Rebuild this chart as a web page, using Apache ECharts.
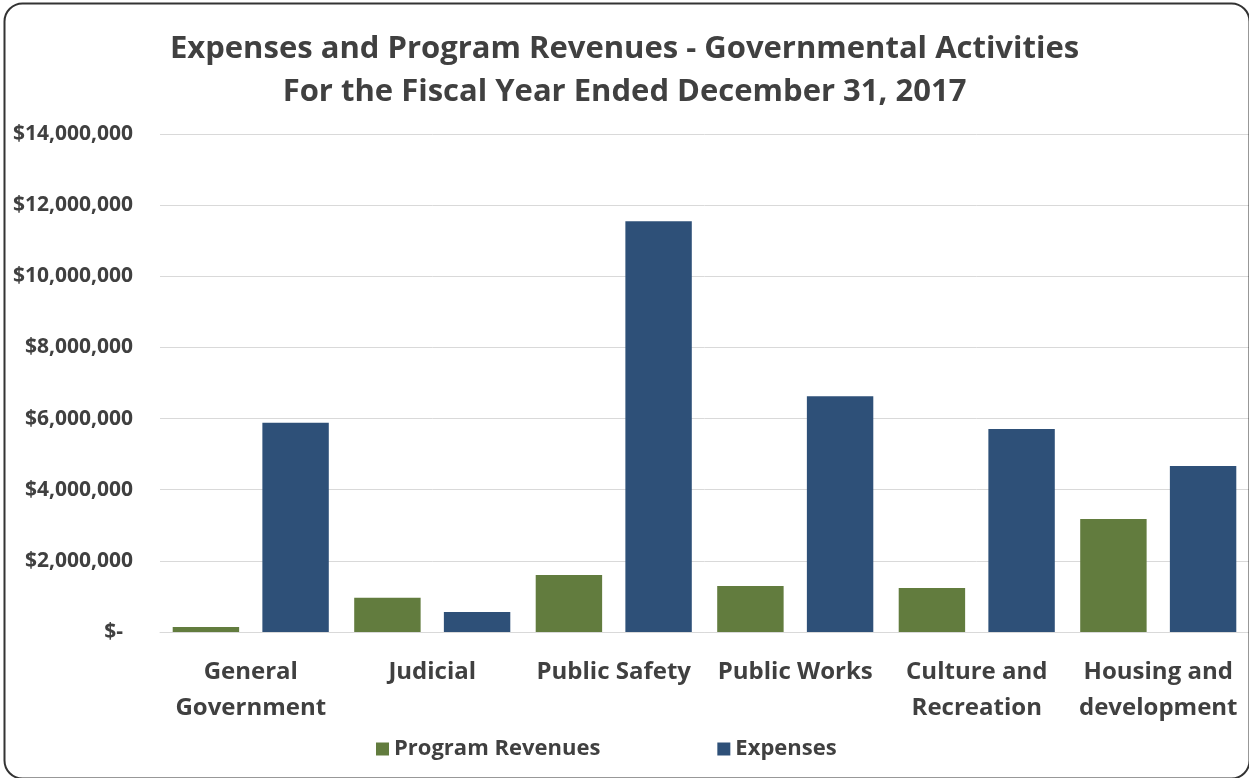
<!DOCTYPE html>
<html>
<head>
<meta charset="utf-8">
<title>Expenses and Program Revenues - Governmental Activities</title>
<script src="https://cdn.jsdelivr.net/npm/echarts@6/dist/echarts.min.js"></script>
<style>
  html, body { margin: 0; padding: 0; background: #ffffff; }
  #chart { width: 1249px; height: 778px; }
</style>
</head>
<body>
<div id="chart"></div>
<script>
// Functions of governmental activities
const categories = [
  'General\nGovernment',
  'Judicial',
  'Public Safety',
  'Public Works',
  'Culture and\nRecreation',
  'Housing and\ndevelopment'
];

// Dollars, fiscal year 2017
const programRevenues = [140000, 960000, 1600000, 1290000, 1240000, 3180000];
const expenses = [5880000, 560000, 11550000, 6630000, 5710000, 4670000];

const seriesNames = ['Program Revenues', 'Expenses'];
const titleLines = [
  'Expenses and Program Revenues - Governmental Activities',
  'For the Fiscal Year Ended December 31, 2017'
];

// Value axis: $0 to $14M in $2M steps
const axisMin = 0;
const axisMax = 14000000;
const axisStep = 2000000;

const textColor = '#404040';
const fontFamily = '"Open Sans", Lato, sans-serif';

function moneyLabel(v) {
  if (v === 0) return '{zero|$-}';
  return '$' + v.toLocaleString('en-US');
}

const chart = echarts.init(document.getElementById('chart'), null, { renderer: 'canvas' });

chart.setOption({
  backgroundColor: '#ffffff',
  animation: false,
  textStyle: { fontFamily: fontFamily, color: textColor },
  title: {
    text: titleLines.join('\n'),
    left: 'center',
    top: 23,
    textStyle: {
      fontFamily: fontFamily,
      fontSize: 31,
      fontWeight: 'bold',
      color: textColor,
      lineHeight: 43
    }
  },
  legend: {
    data: seriesNames,
    top: 733,
    left: 371,
    itemWidth: 13,
    itemHeight: 13,
    itemGap: 117,
    icon: 'rect',
    textStyle: {
      fontFamily: fontFamily,
      fontSize: 22,
      fontWeight: 'bold',
      color: textColor,
      lineHeight: 22
    }
  },
  grid: {
    left: 160,
    top: 134,
    width: 1092,
    bottom: 146,
    containLabel: false
  },
  xAxis: {
    type: 'category',
    data: categories,
    axisTick: { show: false },
    axisLine: { show: true, lineStyle: { color: '#d9d9d9', width: 1 } },
    axisLabel: {
      margin: 22,
      interval: 0,
      fontFamily: fontFamily,
      fontSize: 24,
      fontWeight: 'bold',
      color: textColor,
      lineHeight: 36
    }
  },
  yAxis: {
    type: 'value',
    min: axisMin,
    max: axisMax,
    interval: axisStep,
    axisLine: { show: false },
    axisTick: { show: false },
    splitLine: { lineStyle: { color: '#d9d9d9', width: 1 } },
    axisLabel: {
      margin: 27,
      fontFamily: fontFamily,
      fontSize: 21,
      fontWeight: 'bold',
      color: textColor,
      formatter: moneyLabel,
      rich: {
        zero: {
          fontFamily: fontFamily,
          fontSize: 21,
          fontWeight: 'bold',
          color: textColor,
          padding: [0, 10, 0, 0]
        }
      }
    }
  },
  series: [
    {
      name: seriesNames[0],
      type: 'bar',
      data: programRevenues,
      barGap: '35%',
      barCategoryGap: '14%',
      itemStyle: { color: '#627c3e' }
    },
    {
      name: seriesNames[1],
      type: 'bar',
      data: expenses,
      barGap: '35%',
      barCategoryGap: '14%',
      itemStyle: { color: '#2e5078' }
    }
  ],
  graphic: [
    {
      type: 'rect',
      left: 2,
      top: 1,
      shape: { width: 1245, height: 775, r: 18 },
      style: { fill: 'none', stroke: '#333333', lineWidth: 2 },
      silent: true,
      z: 100
    }
  ]
});
</script>
</body>
</html>
